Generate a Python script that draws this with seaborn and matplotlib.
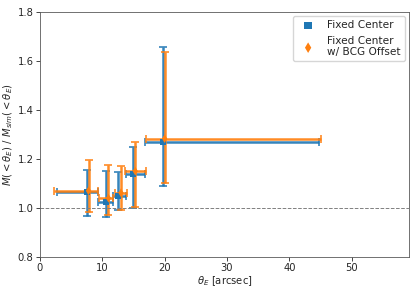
import matplotlib
matplotlib.use("Agg")
import matplotlib.pyplot as plt
import numpy as np
import seaborn as sns

sns.set_style("ticks")
plt.rcParams["font.family"] = ["DejaVu Sans"]

# Fixed Center
fc_theta = [7.5, 10.6, 12.5, 14.9, 19.7]
fc_ratio = [1.065, 1.025, 1.048, 1.140, 1.270]
fc_x_lo = [2.7, 9.3, 11.7, 13.8, 16.9]
fc_x_hi = [9.3, 11.7, 13.8, 16.8, 44.8]
fc_y_lo = [0.967, 0.965, 0.99, 1.0, 1.09]
fc_y_hi = [1.155, 1.15, 1.147, 1.25, 1.655]

# Fixed Center w/ BCG Offset
bcg_theta = [7.8, 11.0, 13.0, 15.3, 20.0]
bcg_ratio = [1.07, 1.04, 1.062, 1.15, 1.283]
bcg_x_lo = [2.2, 9.5, 12.0, 13.6, 17.0]
bcg_x_hi = [9.4, 11.8, 14.0, 17.0, 45.0]
bcg_y_lo = [0.985, 0.97, 0.99, 1.005, 1.10]
bcg_y_hi = [1.195, 1.175, 1.17, 1.27, 1.635]

blue, orange = sns.color_palette("tab10")[:2]

fig, ax = plt.subplots(figsize=(4.15, 2.91), dpi=100)


def draw(theta, ratio, xlo, xhi, ylo, yhi, color, marker, ms, label):
    theta = np.array(theta)
    ratio = np.array(ratio)
    xerr = [theta - np.array(xlo), np.array(xhi) - theta]
    yerr = [ratio - np.array(ylo), np.array(yhi) - ratio]
    ax.errorbar(theta, ratio, xerr=xerr, yerr=yerr, fmt="none", ecolor=color,
                elinewidth=1.8, capsize=3, capthick=1.2, alpha=0.9)
    sns.scatterplot(x=theta, y=ratio, color=color, marker=marker, s=ms,
                    edgecolor="none", label=label, ax=ax, zorder=3)


draw(fc_theta, fc_ratio, fc_x_lo, fc_x_hi, fc_y_lo, fc_y_hi, blue, "s", 20, "Fixed Center")
draw(bcg_theta, bcg_ratio, bcg_x_lo, bcg_x_hi, bcg_y_lo, bcg_y_hi, orange, "d", 20,
     "Fixed Center\nw/ BCG Offset")

ax.axhline(1.0, color="grey", linestyle="--", linewidth=0.7)

ax.set_xlim(0, 59.2)
ax.set_ylim(0.8, 1.8)
ax.set_yticks([0.8, 1.0, 1.2, 1.4, 1.6, 1.8])
ax.set_xticks([0, 10, 20, 30, 40, 50])
ax.tick_params(labelsize=7.2, length=3, width=0.6, pad=1.5)
for s in ax.spines.values():
    s.set_linewidth(0.6)
    s.set_color("0.35")
ax.set_xlabel(r"$\theta_E$ [arcsec]", fontsize=7.2, labelpad=1)
ax.set_ylabel(r"$M(<\theta_E)\ /\ M_{sim}(<\theta_E)$", fontsize=7.2, labelpad=2)
ax.legend(loc="upper right", fontsize=7.6, borderaxespad=0.4, markerscale=1.2)

fig.subplots_adjust(left=0.096, right=0.986, bottom=0.117, top=0.959)
fig.savefig("out.png", dpi=100)
